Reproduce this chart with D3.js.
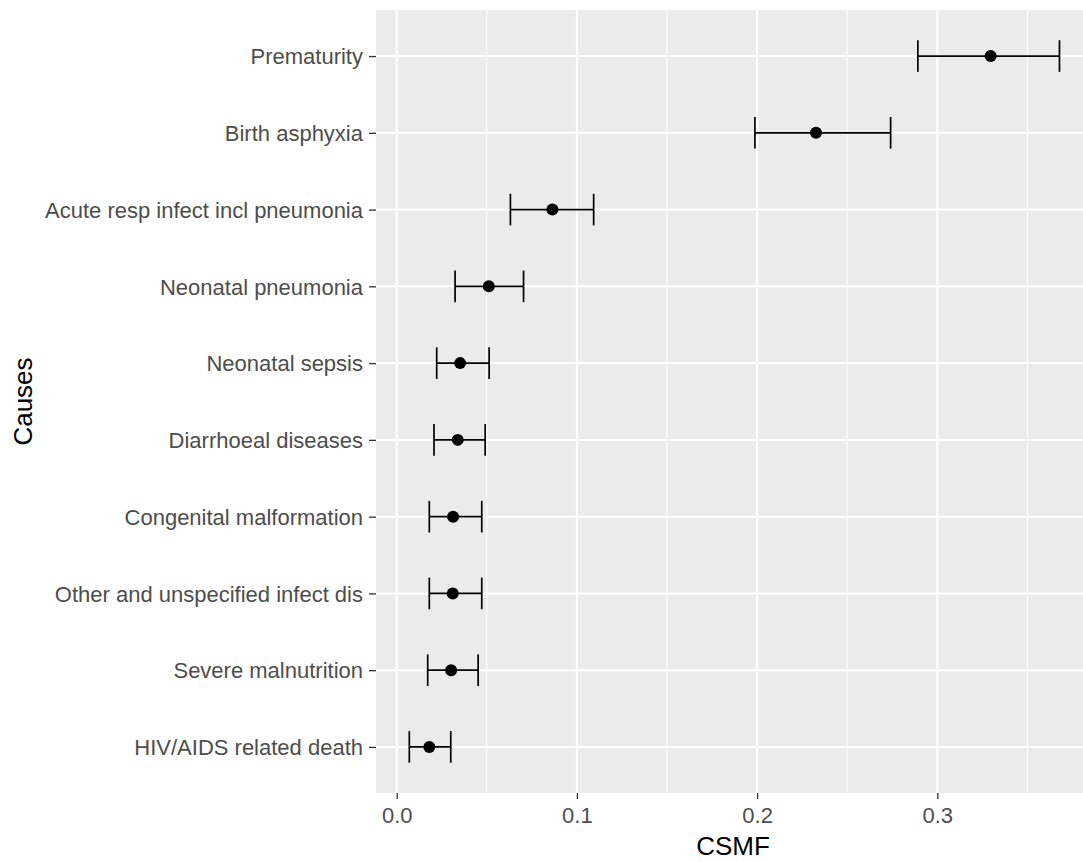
<!DOCTYPE html>
<html>
<head>
<meta charset="utf-8">
<script src="https://cdn.jsdelivr.net/npm/d3@7"></script>
<style>
  body { margin: 0; background: #fff; }
  text { font-family: "Liberation Sans", Arial, sans-serif; }
</style>
</head>
<body>
<svg id="chart" width="1083" height="862"></svg>
<script>
// causes, bottom to top as in the plot
var causes = ["HIV/AIDS related death", "Severe malnutrition", "Other and unspecified infect dis",
  "Congenital malformation", "Diarrhoeal diseases", "Neonatal sepsis", "Neonatal pneumonia",
  "Acute resp infect incl pneumonia", "Birth asphyxia", "Prematurity"];
var csmf  = [0.0181, 0.0302, 0.0311, 0.0313, 0.0339, 0.0352, 0.0511, 0.0864, 0.2327, 0.3296];
var lower = [0.0070, 0.0172, 0.0181, 0.0181, 0.0207, 0.0222, 0.0324, 0.0631, 0.1988, 0.2892];
var upper = [0.0300, 0.0452, 0.0472, 0.0472, 0.0491, 0.0513, 0.0704, 0.1093, 0.2741, 0.3678];
var xTicks = [0, 0.1, 0.2, 0.3];
var xMinor = [0.05, 0.15, 0.25, 0.35];

var data = causes.map(function (c, i) {
  return { cause: c, est: csmf[i], lo: lower[i], hi: upper[i] };
});

var svg = d3.select("#chart");
var pLeft = 376, pRight = 1090, pTop = 10, pBottom = 793;

var x = d3.scaleLinear().domain([0, 0.3]).range([396.7, 937.3]);
var y = d3.scalePoint().domain(causes).range([pBottom, pTop]).padding(0.6);

// panel
svg.append("rect").attr("x", pLeft).attr("y", pTop)
  .attr("width", pRight - pLeft).attr("height", pBottom - pTop).attr("fill", "#EBEBEB");

var grid = svg.append("g");
grid.selectAll(".minor").data(xMinor).enter().append("line")
  .attr("x1", function (d) { return x(d); }).attr("x2", function (d) { return x(d); })
  .attr("y1", pTop).attr("y2", pBottom)
  .attr("stroke", "#fff").attr("stroke-width", 1);
grid.selectAll(".major").data(xTicks).enter().append("line")
  .attr("x1", function (d) { return x(d); }).attr("x2", function (d) { return x(d); })
  .attr("y1", pTop).attr("y2", pBottom)
  .attr("stroke", "#fff").attr("stroke-width", 2);
grid.selectAll(".hmajor").data(causes).enter().append("line")
  .attr("x1", pLeft).attr("x2", pRight)
  .attr("y1", function (d) { return y(d); }).attr("y2", function (d) { return y(d); })
  .attr("stroke", "#fff").attr("stroke-width", 2);

// axes
var xAxis = svg.append("g").attr("transform", "translate(0," + pBottom + ")")
  .call(d3.axisBottom(x).tickValues(xTicks).tickFormat(d3.format(".1f")).tickSize(6).tickPadding(8));
var yAxis = svg.append("g").attr("transform", "translate(" + pLeft + ",0)")
  .call(d3.axisLeft(y).tickSize(7).tickPadding(6));
[xAxis, yAxis].forEach(function (a) {
  a.select(".domain").remove();
  a.attr("font-family", null).attr("font-size", null);
  a.selectAll(".tick line").attr("stroke", "#333").attr("stroke-width", 1.3);
  a.selectAll(".tick text").attr("fill", "#4D4D4D").style("font-size", "22px");
});
yAxis.selectAll(".tick text").attr("dy", "0.35em");

// error bars
var marks = svg.append("g");
marks.selectAll(".bar").data(data).enter().append("line")
  .attr("x1", function (d) { return x(d.lo); }).attr("x2", function (d) { return x(d.hi); })
  .attr("y1", function (d) { return y(d.cause); }).attr("y2", function (d) { return y(d.cause); })
  .attr("stroke", "#000").attr("stroke-width", 1.7);
["lo", "hi"].forEach(function (k) {
  marks.selectAll(".cap-" + k).data(data).enter().append("line")
    .attr("x1", function (d) { return x(d[k]); }).attr("x2", function (d) { return x(d[k]); })
    .attr("y1", function (d) { return y(d.cause) - 15.8; })
    .attr("y2", function (d) { return y(d.cause) + 15.8; })
    .attr("stroke", "#000").attr("stroke-width", 1.7);
});
marks.selectAll("circle").data(data).enter().append("circle")
  .attr("cx", function (d) { return x(d.est); }).attr("cy", function (d) { return y(d.cause); })
  .attr("r", 6).attr("fill", "#000");

// titles
svg.append("text").attr("x", 733).attr("y", 855)
  .attr("text-anchor", "middle").style("font-size", "26px").attr("fill", "#000").text("CSMF");
svg.append("text").attr("transform", "translate(32," + (pTop + pBottom) / 2 + ") rotate(-90)")
  .attr("text-anchor", "middle").style("font-size", "26px").attr("fill", "#000").text("Causes");
</script>
</body>
</html>
